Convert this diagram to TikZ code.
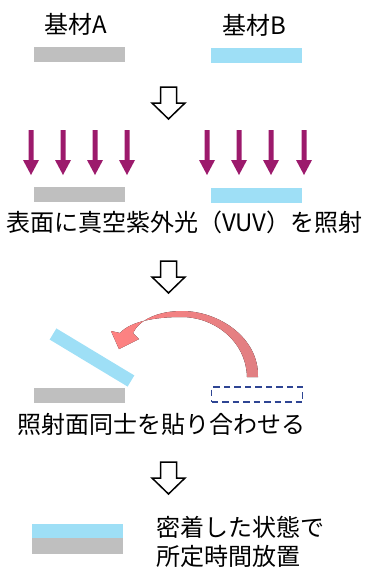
\documentclass[tikz,border=0pt]{standalone}
\usepackage{fontspec}
\setmainfont{Noto Sans CJK JP}
\definecolor{barGray}{HTML}{BFBFBF}
\definecolor{barBlue}{HTML}{9EDFF6}
\definecolor{uvMag}{HTML}{9C1A6C}
\definecolor{dashNavy}{HTML}{2E4593}
\definecolor{curveA}{HTML}{FF8282}
\definecolor{curveB}{HTML}{E07F82}
\begin{document}
\begin{tikzpicture}[x=1pt,y=-1pt,
  bar/.style={minimum width=91pt, minimum height=15pt, inner sep=0pt, outer sep=0pt},
  graybar/.style={bar, fill=barGray},
  bluebar/.style={bar, fill=barBlue},
  lbl/.style={inner sep=0pt, font=\fontsize{24}{29}\selectfont},
  hollowarrow/.pic={\draw[line width=1.5pt, fill=white, line join=miter]
      (-8,0) -- (8,0) -- (8,16) -- (16.5,16) -- (0,32) -- (-16.5,16) -- (-8,16) -- cycle;},
  uvarrow/.pic={\fill[uvMag]
      (-2.5,0) -- (2.5,0) -- (2.5,30) -- (8,30) -- (0,45) -- (-8,30) -- (-2.5,30) -- cycle;}
]
\useasboundingbox (0,0) rectangle (365,573);

% Step 1
\node[lbl] (tA) at (76,24) {基材A};
\node[lbl] (tB) at (254,25) {基材B};
\node[graybar] (gA1) at (79.5,54.5) {};
\node[bluebar] (bB1) at (256.5,55.5) {};
\pic at (168.5,87) {hollowarrow};

% Step 2
\foreach \x in {31,63,95,127,207,239,271,304} {\pic at (\x,130) {uvarrow};}
\node[graybar] (gA2) at (79.5,194) {};
\node[bluebar] (bB2) at (256.5,195.5) {};
\node[lbl] (t2) at (184.5,222) {表面に真空紫外光（VUV）を照射};
\pic at (168.5,261) {hollowarrow};

% Step 3
\node[bluebar, minimum height=13pt, rotate=-31.1] (bBt) at (92,357.5) {};
\node[graybar] (gA3) at (79.5,395) {};
\node[bar, draw=dashNavy, line width=1.6pt, dash pattern=on 6.5pt off 4pt] (dB) at (257,394.5) {};
\fill[left color=curveA, right color=curveB]
  (258,377) .. controls (259,337) and (218,311) .. (182,311)
  .. controls (158,311) and (139,320) .. (133,333)
  -- (139,339) -- (119,349) -- (111,331) -- (120,333)
  .. controls (131,321) and (156,317) .. (182,317)
  .. controls (213,317) and (246,340) .. (247,377) -- cycle;
\node[lbl] (t3) at (161.5,424) {照射面同士を貼り合わせる};
\pic at (168.5,462) {hollowarrow};

% Step 4
\node[bluebar, minimum height=14pt] (bB4) at (77.5,531) {};
\node[graybar, minimum height=16pt] (gA4) at (77.5,546) {};
\node[lbl, anchor=west] (t4a) at (156,527) {密着した状態で};
\node[lbl, anchor=west] (t4b) at (156,556) {所定時間放置};
\end{tikzpicture}
\end{document}
